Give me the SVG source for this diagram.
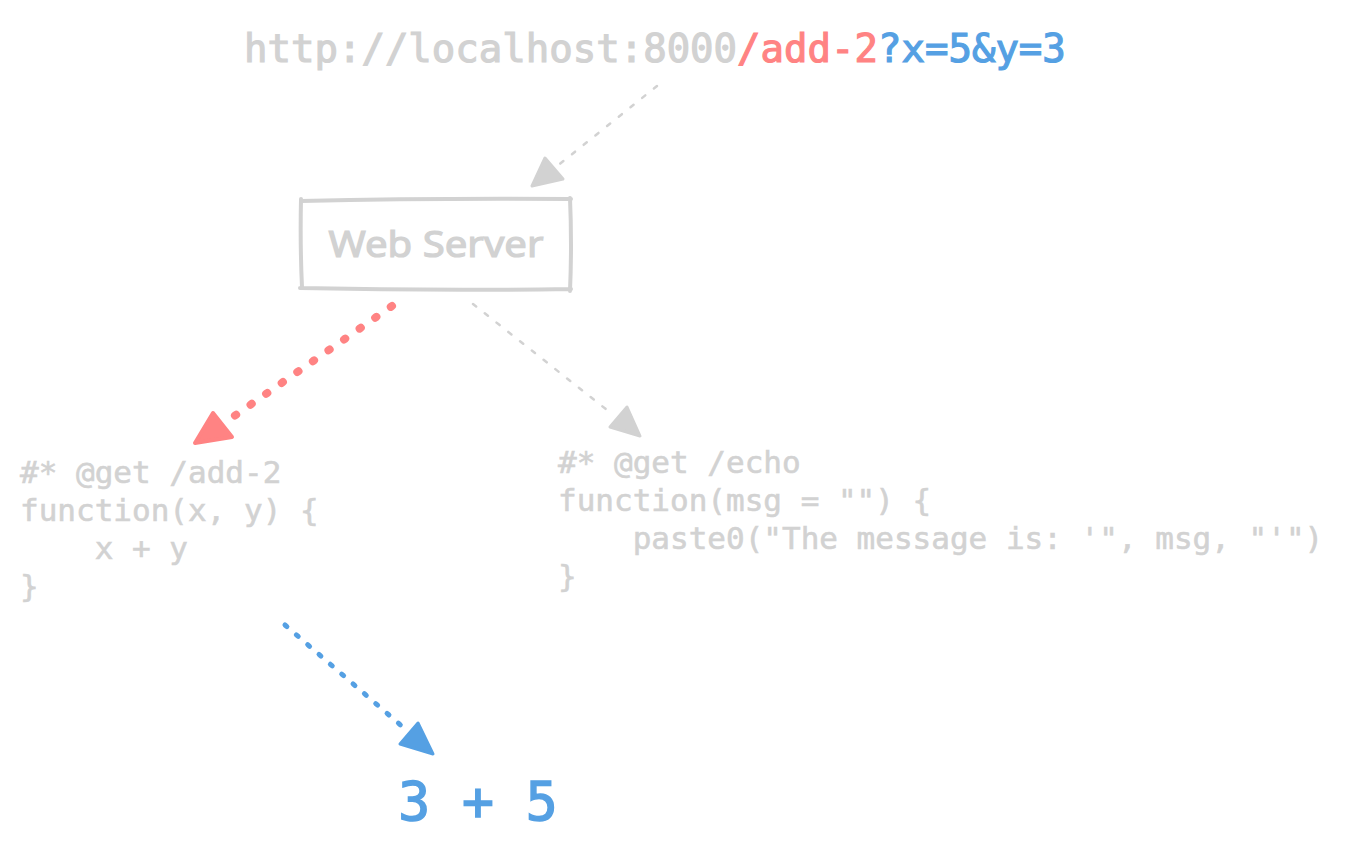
<svg xmlns="http://www.w3.org/2000/svg" width="1346" height="853" viewBox="0 0 1346 853">
  <style>
    .mono { font-family: "DejaVu Sans Mono", "Liberation Mono", monospace; }
    .url { font-size: 39px; stroke-width: 1.2; }
    .code { font-size: 31px; fill: #d2d2d2; stroke: #d2d2d2; stroke-width: 0.6; white-space: pre; }
    .grey { fill: #d2d2d2; stroke: #d2d2d2; }
    .red { fill: #ff8383; stroke: #ff8383; }
    .blue { fill: #55a0e3; stroke: #55a0e3; }
    .hand { font-family: "Noto Sans", "DejaVu Sans", sans-serif; font-size: 37px; fill: #d2d2d2; stroke: #d2d2d2; stroke-width: 1.2; }
  </style>
  <rect width="1346" height="853" fill="#ffffff"/>

  <g id="url">
    <text class="mono url" x="244" y="62"><tspan class="grey">http://localhost:8000</tspan><tspan class="red">/add-2</tspan><tspan class="blue">?x=5&amp;y=3</tspan></text>
  </g>

  <g id="web-server">
    <path d="M301 201 Q 430 198 571 199 M570 198 Q 572 245 570 291 M571 289 Q 435 291 300 288 M302 287 Q 300 245 301 199" fill="none" stroke="#d2d2d2" stroke-width="4" stroke-linecap="round"/>
    <text class="hand" x="436" y="257" text-anchor="middle" textLength="215" lengthAdjust="spacingAndGlyphs">Web Server</text>
  </g>

  <g id="code-add">
    <text class="mono code" x="20" y="483">#* @get /add-2</text>
    <text class="mono code" x="20" y="521">function(x, y) {</text>
    <text class="mono code" x="20" y="559">    x + y</text>
    <text class="mono code" x="20" y="597">}</text>
  </g>

  <g id="code-echo">
    <text class="mono code" x="558" y="473">#* @get /echo</text>
    <text class="mono code" x="558" y="511">function(msg = "") {</text>
    <text class="mono code" x="558" y="549">    paste0("The message is: '", msg, "'")</text>
    <text class="mono code" x="558" y="587">}</text>
  </g>

  <g id="result">
    <text class="mono blue" x="478" y="820" font-size="53" stroke-width="1.5" text-anchor="middle">3 + 5</text>
  </g>

  <g id="connectors" stroke-linecap="round" stroke-linejoin="round">
    <path d="M657 86 L556 167" fill="none" stroke="#d2d2d2" stroke-width="2.5" stroke-dasharray="4 11"/>
    <polygon points="532,186 545,158 563,179" fill="#d2d2d2" stroke="#d2d2d2" stroke-width="3"/>

    <path d="M392 306 L230 419" fill="none" stroke="#ff8383" stroke-width="8" stroke-dasharray="1.5 17.5"/>
    <polygon points="195,443 213,413 232,437" fill="#ff8383" stroke="#ff8383" stroke-width="4"/>

    <path d="M473 304 L607 410" fill="none" stroke="#d2d2d2" stroke-width="2.5" stroke-dasharray="4 11"/>
    <polygon points="610,427 627,407 640,436" fill="#d2d2d2" stroke="#d2d2d2" stroke-width="3"/>

    <path d="M285 625 L404 728" fill="none" stroke="#55a0e3" stroke-width="5" stroke-dasharray="2.5 12.5"/>
    <polygon points="400,744 418,723 433,754" fill="#55a0e3" stroke="#55a0e3" stroke-width="3"/>
  </g>
</svg>
